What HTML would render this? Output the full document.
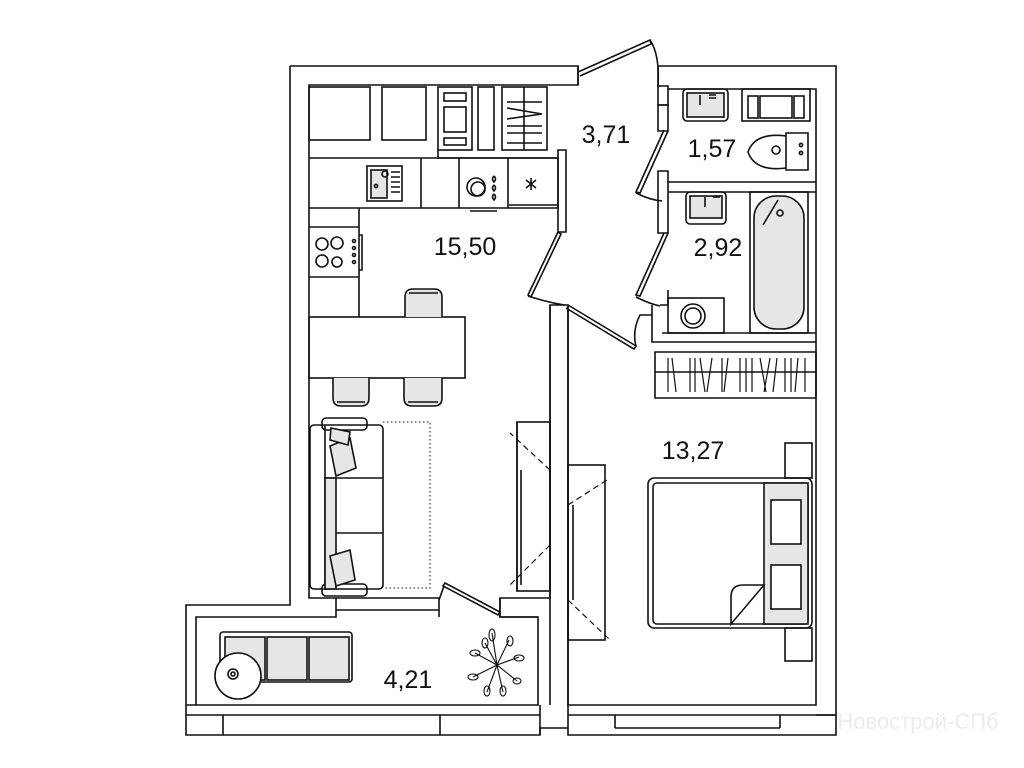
<!DOCTYPE html>
<html><head><meta charset="utf-8"><style>
html,body{margin:0;padding:0;background:#fff;width:1024px;height:768px;overflow:hidden}
svg{display:block}
text{font-family:"Liberation Sans",sans-serif}
</style></head><body>
<svg width="1024" height="768" viewBox="0 0 1024 768" xmlns="http://www.w3.org/2000/svg">
<g fill="none" stroke="#111" stroke-width="1.6">
<path d="M290,66 H578 V85 H309 V598 H336 V617 H196 V705 H538 V617 H500 V598 H550 V305 H568 V705 H816 V89 H668 V86 H658 V66 H836 V715 H816"/>
<path d="M290,66 V605 H186 V735 H540 V728 H568"/>
<path d="M540,705 V735"/>
<path d="M836,715 V735 H568 V705"/>
<path d="M186,705 H196 M186,715 H223 V735 M223,715 H440 V735 M440,715 H540"/>
<path d="M568,715 H615 V728 M615,715 H780 V728 M780,715 H836"/>
<path d="M615,728 H780"/>
<path d="M336,598 H439 V617 M336,610 H439"/>
<path d="M500,598 V617 H538"/>
<path d="M439,600 L444,586" />
<path d="M445,583 L500,612 L498,615 L443,586 Z"/>
<path d="M558,150 H566 V232 H558 Z"/>
<path d="M558,232 L528,295 L531,297 L561,234 Z"/>
<path d="M528,296 Q550,303 565,305"/>
<path d="M550,305 V705 M568,305 V705"/>
<path d="M578,66 V85 M578,72 L650,40 L651,44 L580,76"/>
<path d="M650,40 Q660,55 658,86"/>
<path d="M658,86 V105 H668 V89"/>
<path d="M658,105 H668 V131 H658 Z"/>
<path d="M668,131 L640,193 L636,192 L664,130"/>
<path d="M636,193 Q650,200 662,201"/>
<path d="M658,171 H668 V233 H658 Z M668,182 H816 M668,192 H816"/>
<path d="M668,233 L640,296 L636,295 L664,233"/>
<path d="M636,297 Q650,304 660,306"/>
<path d="M660,305 H668 V290 M652,305 V342 H816 M652,313 V342 M662,333 H816"/>
<path d="M568,305 L636,346 L634,349 L566,308"/>
<path d="M636,347 Q632,330 640,315 H652"/>
<path d="M655,352 H816 V398 H655 Z M655,372 H816 M680,398 H760"/>
<g stroke-width="1.2">
<path d="M668,358 V392 M672,358 L676,392 M690,358 V392 M695,358 V392 M700,358 L705,392 M712,358 L707,392 M722,358 V392 M728,358 L724,392 M740,358 V392 M746,358 V392 M752,358 V392 M760,358 L766,392 M770,358 L764,392 M777,358 L773,392 M785,358 V392 M791,358 V392 M798,358 L795,392 M805,358 V392"/>
</g>
<rect x="309" y="87" width="61" height="53"/>
<rect x="382" y="87" width="44" height="53"/>
<rect x="438" y="87" width="34" height="63"/>
<rect x="444" y="93" width="22" height="8"/><rect x="444" y="107" width="22" height="25"/><rect x="444" y="138" width="22" height="7"/>
<rect x="478" y="87" width="16" height="63"/>
<rect x="502" y="87" width="45" height="63"/>
<path d="M524,87 V150 M507,102 H542 M507,108 L542,114 L507,119 M507,126 H542 M507,133 H542 M507,143 H542"/>
<path d="M438,150 V158 H558"/>
<path d="M309,158 H558 V208 H359 V317 M309,208 H359 M309,227 H359 M309,277 H359"/>
<path d="M421,158 V208 M459,158 V208 M508,158 V208 M509,205 H558"/>
<rect x="367" y="166" width="35" height="35"/>
<rect x="371" y="170" width="16" height="28" fill="#e6e6e6"/>
<path d="M391,172 H400 M391,177 H400 M391,182 H400 M391,187 H400 M391,192 H400"/>
<circle cx="385" cy="174" r="3"/><circle cx="376" cy="186" r="1.6"/>
<circle cx="476" cy="187" r="9"/><circle cx="478" cy="189" r="7"/>
<path d="M494,176 q3,3 0,6 q-3,-3 0,-6 M494,185 q3,3 0,6 q-3,-3 0,-6 M494,194 q3,3 0,6 q-3,-3 0,-6"/>
<path d="M470,211 H497"/>
<path d="M531,178 V190 M526,180 L536,188 M536,180 L526,188"/>
<circle cx="322" cy="244" r="6"/><circle cx="337" cy="243" r="6"/><circle cx="322" cy="261" r="6"/><circle cx="337" cy="262" r="5"/>
<circle cx="354" cy="241" r="1.5"/><circle cx="354" cy="248" r="1.5"/><circle cx="354" cy="255" r="1.5"/><circle cx="354" cy="262" r="1.5"/>
<path d="M359,235 H362 V270 H359"/>
<rect x="309" y="317" width="156" height="61"/>
<path d="M405,317 V297 Q405,289 413,289 H434 Q442,289 442,297 V317" fill="#e6e6e6"/>
<path d="M409,293 H438"/>
<path d="M333,378 V398 Q333,406 341,406 H361 Q369,406 369,398 V378" fill="#e6e6e6"/>
<path d="M404,378 V398 Q404,406 412,406 H434 Q442,406 442,398 V378" fill="#e6e6e6"/>
<path d="M337,402 H365 M408,402 H438"/>
<rect x="683" y="89" width="45" height="32" rx="4"/>
<rect x="687" y="93" width="37" height="24" fill="#e6e6e6"/>
<path d="M700,95 V105 M709,95 H716 M709,98 H716"/>
<rect x="742" y="89" width="68" height="32"/>
<rect x="748" y="96" width="10" height="22"/><rect x="760" y="96" width="32" height="22"/><rect x="794" y="96" width="10" height="22"/>
<path d="M786,133 H808 V170 H786 Z"/>
<path d="M786,136 Q755,132 748,152 Q755,172 786,168"/>
<circle cx="776" cy="150" r="4"/><circle cx="801" cy="145" r="1.6"/><circle cx="801" cy="153" r="1.6"/>
<rect x="686" y="192" width="40" height="32" rx="4"/>
<rect x="690" y="196" width="32" height="22" fill="#e6e6e6"/>
<path d="M705,197 V207 M713,197 H720"/>
<rect x="750" y="192" width="58" height="141"/>
<rect x="754" y="196" width="50" height="133" rx="22" fill="#e6e6e6"/>
<path d="M778,200 L763,225"/><circle cx="780" cy="213" r="3"/>
<rect x="668" y="298" width="56" height="35"/>
<circle cx="693" cy="316" r="12"/><circle cx="693" cy="316" r="8"/>
<path d="M383,422 H430 V588 H383" stroke-dasharray="1.5,2.5" stroke-width="1"/>
<rect x="310" y="425" width="73" height="164" rx="4"/>
<rect x="322" y="418" width="45" height="12" rx="4"/><rect x="322" y="584" width="45" height="12" rx="4"/>
<path d="M325,425 V589 M325,478 H383 M325,533 H383"/>
<rect x="325" y="478" width="11" height="111" fill="#e6e6e6"/>
<path d="M330,446 L350,438 L356,468 L336,476 Z" fill="#e6e6e6"/>
<path d="M331,428 L350,432 L348,445 L330,440 Z" fill="#e6e6e6"/>
<path d="M330,556 L350,550 L355,580 L336,586 Z" fill="#e6e6e6"/>
<rect x="517" y="422" width="33" height="169"/>
<path d="M517,422 V591 M521,470 V585"/>
<path d="M550,470 L510,433 M550,545 L510,585" stroke-dasharray="6,4" stroke-width="1.2"/>
<rect x="568" y="465" width="37" height="175"/>
<path d="M573,505 V600"/>
<path d="M568,505 L610,478 M568,600 L610,640" stroke-dasharray="6,4" stroke-width="1.2"/>
<rect x="785" y="443" width="27" height="35"/><rect x="785" y="628" width="27" height="33"/>
<rect x="648" y="478" width="164" height="150" rx="6"/>
<rect x="653" y="483" width="155" height="141" rx="4"/>
<rect x="764" y="483" width="44" height="141" fill="#e6e6e6"/>
<path d="M764,585 L731,624 V597 Q731,585 743,585 Z" fill="#fff"/>
<rect x="771" y="500" width="30" height="44" fill="#fff"/>
<rect x="771" y="565" width="30" height="44" fill="#fff"/>
<rect x="220" y="632" width="132" height="50" rx="3"/>
<rect x="225" y="637" width="40" height="43" fill="#e6e6e6"/><rect x="267" y="637" width="40" height="43" fill="#e6e6e6"/><rect x="309" y="637" width="40" height="43" fill="#e6e6e6"/>
<circle cx="238" cy="676" r="23" fill="#fff"/>
<circle cx="233" cy="674" r="5"/><circle cx="233" cy="674" r="2"/>
<g transform="translate(497,665)" stroke-width="1.1">
<path d="M0,0 L-5,-32 M0,0 L12,-25 M0,0 L22,-8 M0,0 L20,16 M0,0 L6,27 M0,0 L-10,27 M0,0 L-24,12 M0,0 L-22,-12 M0,0 L-12,-22"/>
<ellipse cx="-5" cy="-30" rx="3" ry="6"/><ellipse cx="13" cy="-24" rx="3" ry="5"/><ellipse cx="22" cy="-7" rx="5" ry="3"/>
<ellipse cx="20" cy="16" rx="4" ry="3"/><ellipse cx="6" cy="26" rx="3" ry="5"/><ellipse cx="-10" cy="26" rx="3" ry="5"/>
<ellipse cx="-24" cy="12" rx="5" ry="3"/><ellipse cx="-22" cy="-12" rx="5" ry="3"/><ellipse cx="-12" cy="-22" rx="3" ry="5"/>
</g>
</g>
<g fill="#111" font-size="25" text-anchor="middle">
<text x="465" y="255">15,50</text>
<text x="606" y="143">3,71</text>
<text x="712" y="157">1,57</text>
<text x="718" y="256">2,92</text>
<text x="693" y="459">13,27</text>
<text x="408" y="688">4,21</text>
</g>
<text x="918" y="729" font-size="22" fill="#ececec" text-anchor="middle" font-family="Liberation Sans, sans-serif">Новострой-СПб</text>
</svg>
</body></html>
